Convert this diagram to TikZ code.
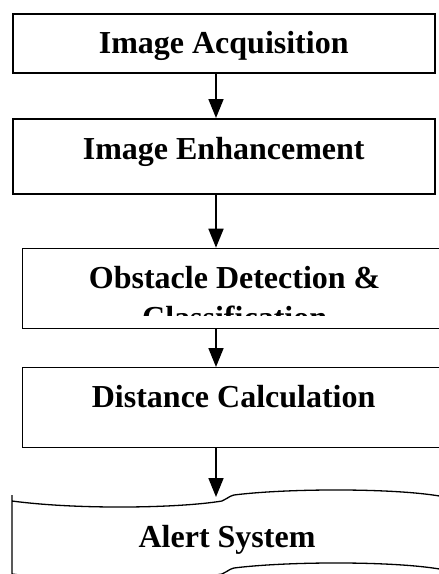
\documentclass[tikz,border=0pt]{standalone}
\usepackage{fontspec}
\setmainfont{Liberation Serif}
\usetikzlibrary{arrows.meta}

\tikzset{
  texte/.style={inner sep=0pt, font=\bfseries\fontsize{32}{40}\selectfont},
  boite/.style={texte, draw, rectangle, line width=1.3pt,
    minimum width=422pt, anchor=north west},
  fleche/.style={-{Triangle[length=19pt,width=15pt]}, line width=1.8pt}
}

\begin{document}
\begin{tikzpicture}[x=1pt,y=-1pt]
\useasboundingbox (0,0) rectangle (439,574);
\clip (0,0) rectangle (439,574);

% Etapes
\node[boite, line width=2pt, text height=39pt, text depth=20pt] (acq) at (11.7,13) {Image Acquisition};
\node[boite, line width=2pt, text height=40pt, text depth=35pt] (enh) at (11.7,118) {Image Enhancement};
\node[boite, text height=40pt, text depth=40.3pt] (det) at (22,247.7) {};
\node[boite, text height=40pt, text depth=39.7pt] (dist) at (22,367) {Distance Calculation};

% Texte coupe par la boite
\begin{scope}
  \clip (det.north west) rectangle ([yshift=-68pt]det.north east);
  \node[texte, anchor=north, align=center] (dettxt) at ([xshift=1pt,yshift=-18.5pt]det.north)
    {Obstacle Detection \&\\Classification};
\end{scope}

% Alerte (bande perforee)
\draw[line width=1.3pt] (12,495) -- (12,501)
  .. controls (80,510) and (180,508) .. (222,501)
  .. controls (226,500) and (227,497) .. (234,495)
  .. controls (290,488) and (400,488) .. (445,497)
  -- (445,570)
  .. controls (400,561) and (290,561) .. (234,568)
  .. controls (227,570) and (226,573) .. (222,574)
  .. controls (180,581) and (80,583) .. (12,574) -- cycle;
\node[texte, anchor=base] (alert) at (227,547) {Alert System};

% Fleches
\coordinate (ax) at (216,0);
\coordinate (alerttop) at (216,497);
\draw[fleche] (acq.south -| ax) -- (enh.north -| ax);
\draw[fleche] (enh.south -| ax) -- (det.north -| ax);
\draw[fleche] (det.south -| ax) -- (dist.north -| ax);
\draw[fleche] (dist.south -| ax) -- (alerttop);

\end{tikzpicture}
\end{document}
